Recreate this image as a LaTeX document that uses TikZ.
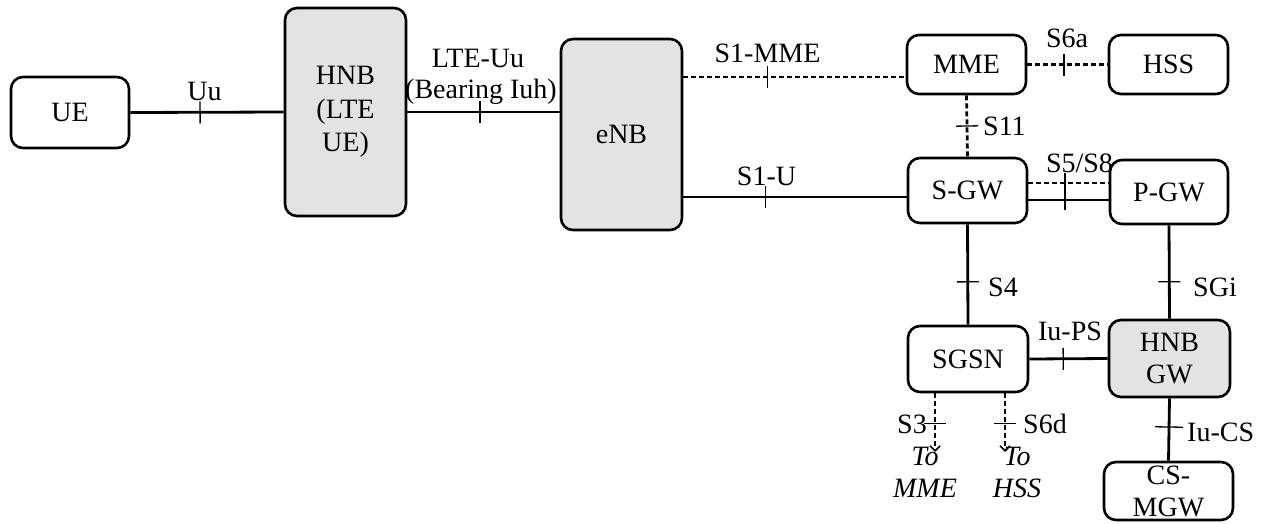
\documentclass[tikz,border=0pt]{standalone}
\usepackage{fontspec}
\setmainfont{Liberation Serif}
\usetikzlibrary{arrows.meta,decorations.markings,calc}
\definecolor{boxgray}{RGB}{227,227,227}
\begin{document}
\begin{tikzpicture}[x=1pt,y=-1pt,
  every node/.style={font=\fontsize{28pt}{33.5pt}\selectfont, inner sep=0pt},
  box/.style={draw, line width=2.6pt, rounded corners=12pt, align=center},
  graybox/.style={box, fill=boxgray},
  conn/.style={line width=2.8pt},
  dconn/.style={line width=2.8pt, dash pattern=on 5pt off 3pt},
  tickat/.style={postaction={decorate,decoration={markings,mark=at position #1 with {\draw[solid,-,line width=1.3pt] (0,-11pt)--(0,11pt);}}}},
  lbl/.style={anchor=base},
  lblw/.style={anchor=base west},
  lble/.style={anchor=base east},
  itl/.style={anchor=base, font=\fontsize{28pt}{32pt}\selectfont\itshape, align=center},
]
\useasboundingbox (0,0) rectangle (1266,523);

% label partly hidden by the HNB box
\node[lbl] (lLTE) at (478,67) {LTE-Uu};
\node[lbl] (lBear) at (481,98) {(Bearing Iuh)};

% boxes
\node[box, minimum width=118pt, minimum height=71pt] (UE) at (70,112.5) {UE};
\node[graybox, minimum width=121pt, minimum height=208pt] (HNB) at (345.5,112) {HNB\\(LTE\\UE)};
\node[graybox, minimum width=121pt, minimum height=191pt] (eNB) at (621.5,134.5) {eNB};
\node[box, minimum width=119pt, minimum height=59pt] (MME) at (966.5,64.5) {MME};
\node[box, minimum width=119pt, minimum height=59pt] (HSS) at (1168.5,64.5) {HSS};
\node[box, minimum width=119pt, minimum height=65pt] (SGW) at (967.5,190.5) {S-GW};
\node[box, minimum width=118pt, minimum height=64pt] (PGW) at (1169,192) {P-GW};
\node[box, minimum width=120pt, minimum height=66pt] (SGSN) at (968,359) {SGSN};
\node[graybox, minimum width=121pt, minimum height=77pt, font=\fontsize{28pt}{32pt}\selectfont] (HNBGW) at (1169.5,358.5) {HNB\\GW};
\node[box, minimum width=129pt, minimum height=58pt, font=\fontsize{28pt}{32pt}\selectfont] (CSMGW) at (1168.5,491) {CS-\\MGW};

\coordinate (s3end) at (935,452);
\coordinate (s6dend) at (1005,452);

% connectors
\draw[conn, tickat=0.455] (UE.east) -- (HNB.west);
\draw[conn, tickat=0.477] (HNB.east) -- (HNB.east -| eNB.west);
\draw[dconn, tickat=0.378] ([yshift=-12.5pt]MME.west -| eNB.east) -- ([yshift=-12.5pt]MME.west);
\draw[dconn, tickat=0.458] (MME.east) -- (HSS.west);
\draw[dconn, tickat=0.5] (MME.south) -- (SGW.north);
\draw[conn, tickat=0.367] ([yshift=-6.5pt]SGW.west -| eNB.east) -- ([yshift=-6.5pt]SGW.west);
\draw[dconn] ([yshift=7.5pt]SGW.east) -- ([yshift=7.5pt]SGW.east -| PGW.west);
\draw[conn, postaction={decorate,decoration={markings,mark=at position 0.458 with {\draw[solid,-,line width=1.3pt] (0,-10pt)--(0,27pt);}}}]
  ([yshift=-9.5pt]SGW.east) -- ([yshift=-9.5pt]SGW.east -| PGW.west);
\draw[conn, tickat=0.573] (SGW.south) -- (SGSN.north);
\draw[conn, tickat=0.604] (PGW.south) -- (HNBGW.north);
\draw[conn, tickat=0.432] (SGSN.east) -- (HNBGW.west);
\draw[conn, postaction={decorate,decoration={markings,mark=at position 0.46 with {\draw[solid,-,line width=1.3pt] (0,-14pt)--(0,14pt);}}}]
  (HNBGW.south) -- (CSMGW.north);
\draw[dconn, -{Straight Barb[length=5pt,width=10pt,line width=1.6pt]}, tickat=0.52] (SGSN.south -| s3end) -- (s3end);
\draw[dconn, -{Straight Barb[length=5pt,width=10pt,line width=1.6pt]}, tickat=0.52] (SGSN.south -| s6dend) -- (s6dend);

% labels
\node[lbl] (lUu) at (204.5,100) {Uu};
\node[lbl] (lS1MME) at (767.5,62) {S1-MME};
\node[lbl] (lS6a) at (1067,47) {S6a};
\node[lblw] (lS11) at (983,135) {S11};
\node[lbl] (lS1U) at (766.5,185) {S1-U};
\node[lbl] (lS5) at (1079.5,172) {S5/S8};
\node[lblw] (lS4) at (988,296) {S4};
\node[lblw] (lSGi) at (1193,296) {SGi};
\node[lbl] (lIuPS) at (1070,340) {Iu-PS};
\node[lble] (lS3) at (927,433) {S3};
\node[lblw] (lS6d) at (1023,433) {S6d};
\node[lblw] (lIuCS) at (1187,441) {Iu-CS};
\node[itl] (lToMME) at (925,497) {To\\MME};
\node[itl] (lToHSS) at (1017,497) {To\\HSS};
\end{tikzpicture}
\end{document}
